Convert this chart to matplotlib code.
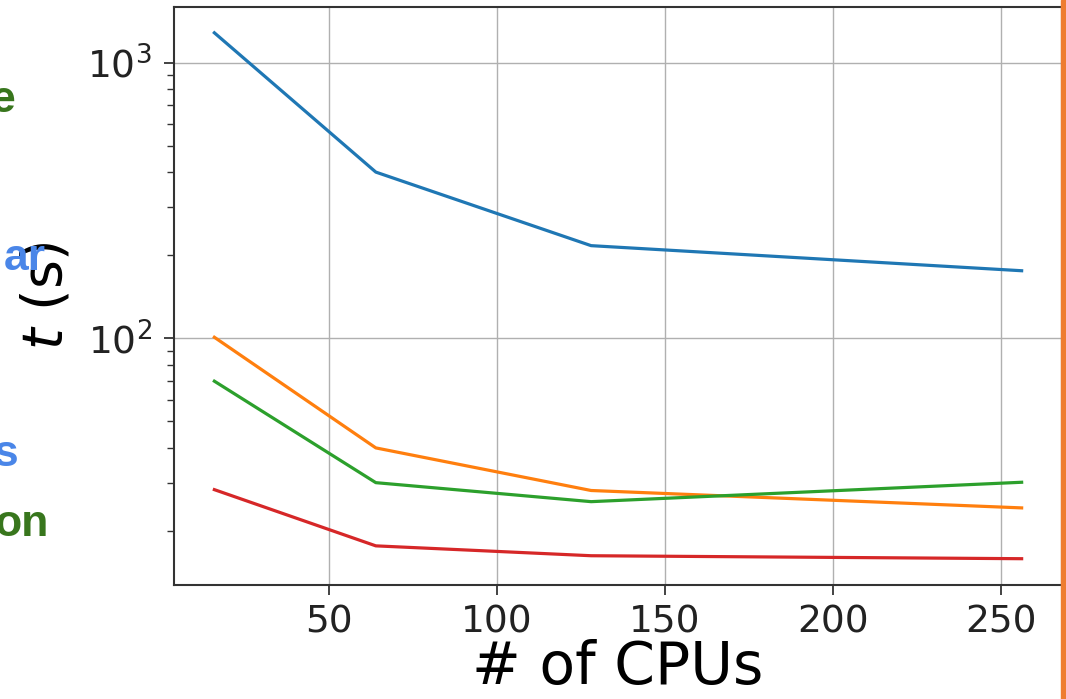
import matplotlib
matplotlib.use("Agg")
import matplotlib.pyplot as plt
from matplotlib.patches import Rectangle

# timings
cpus = [16, 64, 128, 256]
t_blue = [1283, 401, 217, 176]
t_orange = [101, 40.1, 28.1, 24.3]
t_green = [70, 30.0, 25.6, 30.1]
t_red = [28.3, 17.7, 16.3, 15.9]

# bits of slide text cut off at the left edge
slide_bits = ["e", "ar", "s", "on"]
slide_cols = ["#38761d", "#4a86e8", "#4a86e8", "#38761d"]
slide_y = [100, 258, 455, 525]     # pixel rows (from top)
slide_right = [15, 46, 18, 49]     # pixel x of right edge

W, H = 1066, 699
fig = plt.figure(figsize=(W / 100, H / 100), dpi=100)
ax = fig.add_axes([174 / W, 1 - 585 / H, (1062 - 174) / W, (585 - 6.5) / H])

for y in [t_blue, t_orange, t_green, t_red]:
    ax.plot(cpus, y, lw=2.3)

ax.set_yscale("log")
ax.grid(True, which="major", color="#b0b0b0", lw=1.0)
ax.set_xticks([50, 100, 150, 200, 250])
ax.tick_params(which="major", labelsize=27, length=7, width=1.2, colors="#222222")
ax.tick_params(axis="x", pad=7)
ax.tick_params(axis="y", pad=9)
ax.tick_params(which="minor", length=5, width=1.0, colors="#333333")
for s in ax.spines.values():
    s.set_linewidth(1.5)
    s.set_color("#333333")
ax.set_xlabel("# of CPUs", fontsize=42, labelpad=-1)
ax.set_ylabel("$t$ (s)", fontsize=40, labelpad=10)

for txt, c, yp, xr in zip(slide_bits, slide_cols, slide_y, slide_right):
    fig.text(xr / W, 1 - yp / H, txt, color=c, fontsize=32, fontweight="bold",
             family=["Liberation Sans", "DejaVu Sans"], ha="right", va="center",
             zorder=5)

# orange slide border on the right
fig.patches.append(Rectangle((1061 / W, 0), 5 / W, 1, transform=fig.transFigure,
                             color="#ee7d31", zorder=10))

fig.savefig("out.png", dpi=100)
